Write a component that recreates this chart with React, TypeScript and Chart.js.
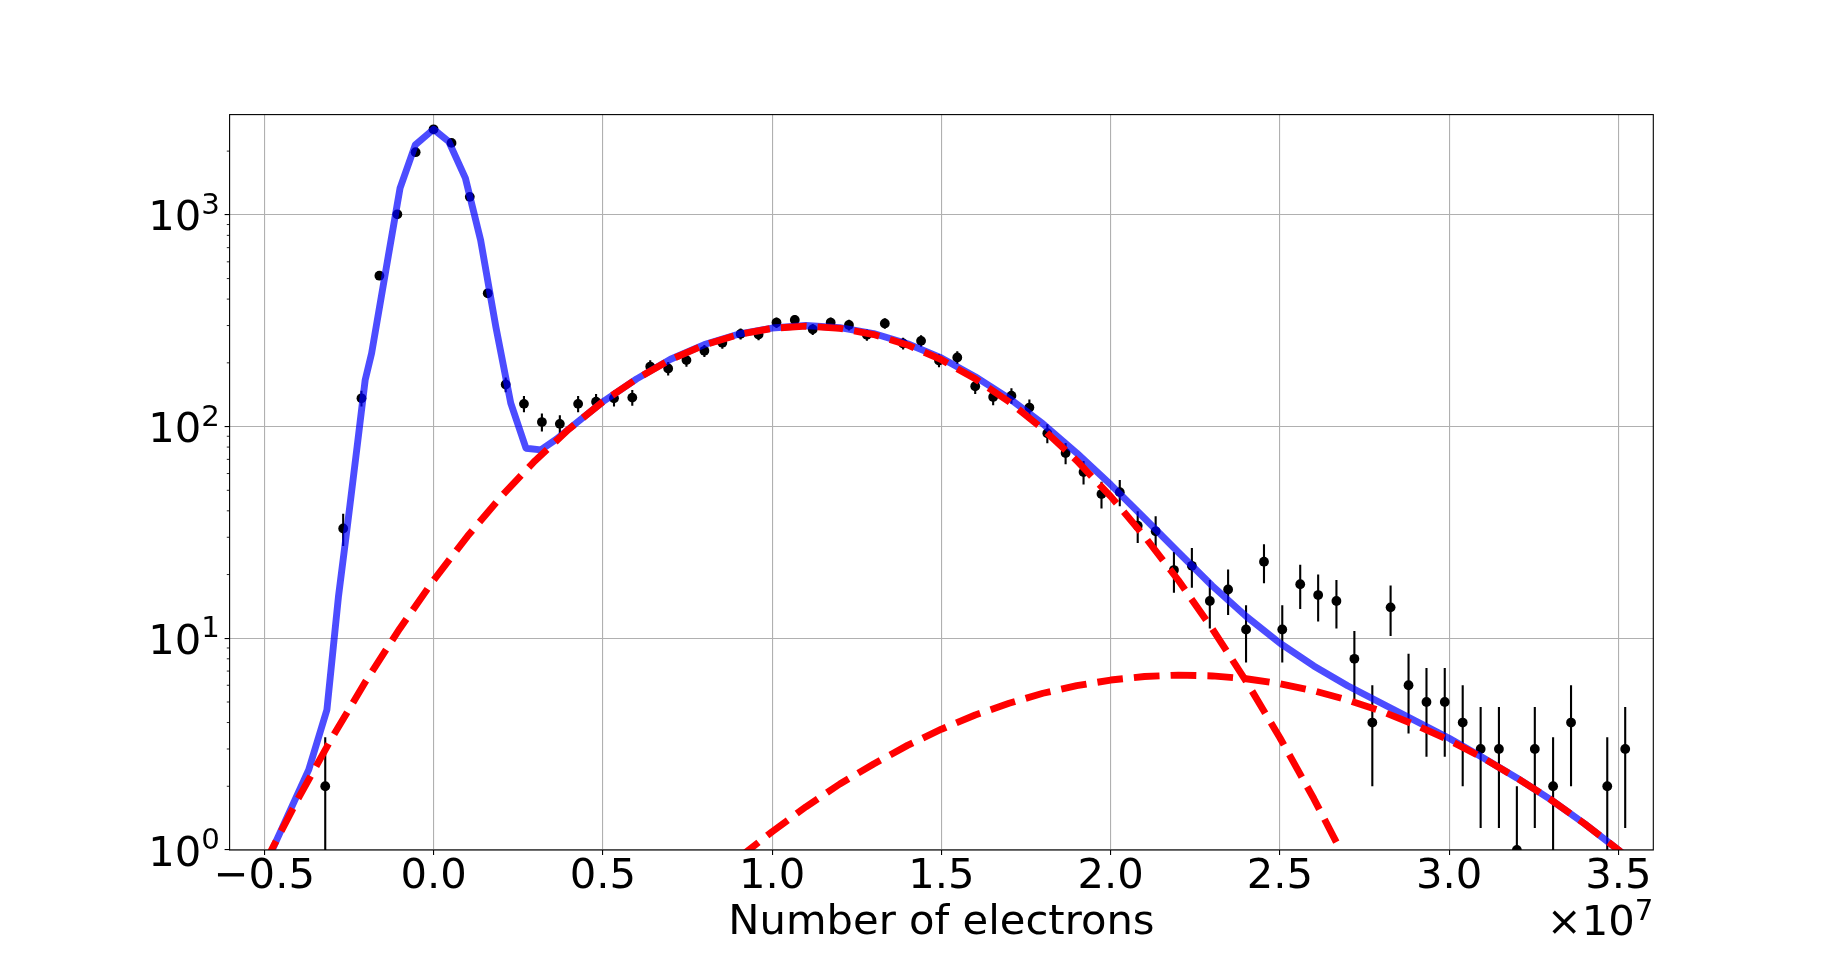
import { useEffect, useRef } from "react";
import { Chart, registerables } from "chart.js";

Chart.register(...registerables);

const FONT = "DejaVu Sans";
const BIG = 41.7;
const SUP = 29.2;

// histogram: bin centres in units of 1e7 electrons, counts per bin, Poisson error bars
const binCentres = [
  -0.32, -0.267, -0.213, -0.16, -0.107, -0.053, 0.0, 0.053, 0.107, 0.16,
  0.213, 0.267, 0.32, 0.373, 0.427, 0.48, 0.533, 0.587, 0.64, 0.693,
  0.747, 0.8, 0.853, 0.907, 0.96, 1.013, 1.067, 1.12, 1.173, 1.227,
  1.28, 1.333, 1.387, 1.44, 1.493, 1.547, 1.6, 1.653, 1.707, 1.76,
  1.813, 1.867, 1.92, 1.973, 2.027, 2.08, 2.133, 2.187, 2.24, 2.293,
  2.347, 2.4, 2.453, 2.507, 2.56, 2.613, 2.667, 2.72, 2.773, 2.827,
  2.88, 2.933, 2.987, 3.04, 3.093, 3.147, 3.2, 3.253, 3.307, 3.36,
  3.413, 3.467, 3.52,
];
const counts = [
  2, 33, 136, 516, 1006, 1977, 2535, 2187, 1216, 426,
  158, 128, 105, 103, 128, 131, 136, 137, 192, 188,
  206, 228, 249, 274, 272, 310, 319, 288, 310, 302,
  271, 307, 247, 254, 205, 212, 155, 138, 140, 123,
  93, 75, 61, 48, 49, 34, 32, 21, 22, 15,
  17, 11, 23, 11, 18, 16, 15, 8, 4, 14,
  6, 5, 5, 4, 3, 3, 1, 3, 2, 4,
  0, 2, 3,
];
const countErrors = [
  1.41, 5.74, 11.66, 22.72, 31.72, 44.46, 50.35, 46.77, 34.87, 20.64,
  12.57, 11.31, 10.25, 10.15, 11.31, 11.45, 11.66, 11.7, 13.86, 13.71,
  14.35, 15.1, 15.78, 16.55, 16.49, 17.61, 17.86, 16.97, 17.61, 17.38,
  16.46, 17.52, 15.72, 15.94, 14.32, 14.56, 12.45, 11.75, 11.83, 11.09,
  9.64, 8.66, 7.81, 6.93, 7.0, 5.83, 5.66, 4.58, 4.69, 3.87,
  4.12, 3.32, 4.8, 3.32, 4.24, 4.0, 3.87, 2.83, 2.0, 3.74,
  2.45, 2.24, 2.24, 2.0, 1.73, 1.73, 1.0, 1.73, 1.41, 2.0,
  0, 1.41, 1.73,
];

// full fit (blue)
const totalFitX = [
  -0.5, -0.369, -0.315, -0.281, -0.256, -0.226, -0.202, -0.183, -0.134, -0.099,
  -0.054, 0.0, 0.045, 0.094, 0.139, 0.184, 0.228, 0.273, 0.317, 0.362,
  0.4, 0.5, 0.6, 0.7, 0.8, 0.9, 1.0, 1.1, 1.2, 1.3,
  1.4, 1.5, 1.6, 1.7, 1.8, 1.9, 2.0, 2.1, 2.2, 2.3,
  2.4, 2.5, 2.6, 2.7, 2.8, 2.9, 3.0, 3.1, 3.2, 3.3,
  3.4, 3.5, 3.6,
];
const totalFitY = [
  0.83, 2.39, 4.6, 15.7, 32.5, 80, 166, 222, 635, 1336,
  2138, 2537, 2218, 1490, 760, 296, 129, 79, 77.6, 87,
  97.5, 131, 168, 208, 244, 273, 292, 300, 293, 275,
  246, 211, 172, 136, 103, 75, 53.2, 36.9, 25.5, 17.7,
  12.7, 9.49, 7.4, 5.97, 4.93, 4.08, 3.37, 2.73, 2.19, 1.73,
  1.33, 1.0, 0.74,
];

// main component (red dashed)
const mainGaussX = [
  -0.5, -0.4, -0.3, -0.2, -0.1, 0.0, 0.1, 0.2, 0.3, 0.4,
  0.5, 0.6, 0.7, 0.8, 0.9, 1.0, 1.1, 1.2, 1.3, 1.4,
  1.5, 1.6, 1.7, 1.8, 1.9, 2.0, 2.1, 2.2, 2.3, 2.4,
  2.5, 2.6, 2.7,
];
const mainGaussY = [
  0.86, 1.75, 3.39, 6.28, 11.1, 18.8, 30.3, 46.8, 69.0, 97.3,
  131, 168, 207, 243, 272, 291, 298, 291, 272, 243,
  207, 168, 131, 97.3, 69.0, 46.8, 30.3, 18.8, 11.1, 6.28,
  3.39, 1.75, 0.86,
];

// second component (red dashed)
const secondGaussX = [
  0.9, 1.0, 1.1, 1.2, 1.3, 1.4, 1.5, 1.6, 1.7, 1.8,
  1.9, 2.0, 2.1, 2.2, 2.3, 2.4, 2.5, 2.6, 2.7, 2.8,
  2.9, 3.0, 3.1, 3.2, 3.3, 3.4, 3.5, 3.6,
];
const secondGaussY = [
  0.914, 1.22, 1.6, 2.05, 2.55, 3.12, 3.72, 4.34, 4.93, 5.5,
  5.97, 6.35, 6.6, 6.7, 6.64, 6.44, 6.1, 5.65, 5.11, 4.52,
  3.9, 3.3, 2.72, 2.19, 1.73, 1.33, 1.0, 0.74,
];

const xTicks = [-0.5, 0.0, 0.5, 1.0, 1.5, 2.0, 2.5, 3.0, 3.5];
const yTicks = [1, 10, 100, 1000];
const yMinorTicks = [
  2, 3, 4, 5, 6, 7, 8, 9,
  20, 30, 40, 50, 60, 70, 80, 90,
  200, 300, 400, 500, 600, 700, 800, 900,
  2000,
];

const toPoints = (xs: number[], ys: number[]) => xs.map((x, i) => ({ x, y: ys[i] }));

const fmtX = (v: number) => (v < 0 ? "\u2212" + (-v).toFixed(1) : v.toFixed(1));

// error bars, frame, minor ticks, 10^n labels and the x offset text
const decorations = {
  id: "decorations",
  beforeDatasetsDraw(chart: any) {
    const { ctx, chartArea: a } = chart;
    const x = chart.scales.x;
    const y = chart.scales.y;
    ctx.save();
    ctx.beginPath();
    ctx.rect(a.left, a.top, a.right - a.left, a.bottom - a.top);
    ctx.clip();
    ctx.strokeStyle = "#000";
    ctx.lineWidth = 2.1;
    counts.forEach((n, i) => {
      if (!n) return;
      const px = x.getPixelForValue(binCentres[i]);
      const lo = n - countErrors[i];
      const top = y.getPixelForValue(n + countErrors[i]);
      const bottom = lo > 0 ? y.getPixelForValue(lo) : a.bottom + 5;
      ctx.beginPath();
      ctx.moveTo(px, top);
      ctx.lineTo(px, bottom);
      ctx.stroke();
    });
    ctx.restore();
  },
  afterDraw(chart: any) {
    const { ctx, chartArea: a } = chart;
    const y = chart.scales.y;
    ctx.save();
    ctx.strokeStyle = "#000";
    ctx.lineWidth = 1.1;
    ctx.strokeRect(a.left, a.top, a.right - a.left, a.bottom - a.top);

    ctx.lineWidth = 0.85;
    yMinorTicks.forEach((v) => {
      const py = y.getPixelForValue(v);
      ctx.beginPath();
      ctx.moveTo(a.left - 2.8, py);
      ctx.lineTo(a.left, py);
      ctx.stroke();
    });

    ctx.fillStyle = "#000";
    ctx.textBaseline = "alphabetic";
    ctx.textAlign = "right";
    const right = a.left - 9.7;
    yTicks.forEach((v) => {
      const py = y.getPixelForValue(v);
      const exp = String(Math.round(Math.log10(v)));
      ctx.font = `${SUP}px "${FONT}"`;
      const ew = ctx.measureText(exp).width;
      ctx.fillText(exp, right, py - 1);
      ctx.font = `${BIG}px "${FONT}"`;
      ctx.fillText("10", right - ew, py + 15.5);
    });

    ctx.font = `${SUP}px "${FONT}"`;
    const sw = ctx.measureText("7").width;
    ctx.fillText("7", a.right, 919.5);
    ctx.font = `${BIG}px "${FONT}"`;
    ctx.fillText("\u00d710", a.right - sw, 935);
    ctx.restore();
  },
};

const gridStyle = {
  color: "#b0b0b0",
  lineWidth: 1.1,
  tickLength: 5,
  tickColor: "#000",
  tickWidth: 1.1,
};

export default function App() {
  const canvasRef = useRef<HTMLCanvasElement>(null);

  useEffect(() => {
    if (!canvasRef.current) return;

    const lineBase = {
      type: "line" as const,
      pointRadius: 0,
      borderWidth: 6.9,
      tension: 0,
      clip: 0,
      borderJoinStyle: "round" as const,
    };

    const chart = new Chart(canvasRef.current, {
      type: "scatter",
      data: {
        datasets: [
          {
            ...lineBase,
            data: toPoints(mainGaussX, mainGaussY),
            borderColor: "#ff0000",
            borderDash: [25.7, 11.1],
            borderCapStyle: "butt",
            order: 0,
          },
          {
            ...lineBase,
            data: toPoints(secondGaussX, secondGaussY),
            borderColor: "#ff0000",
            borderDash: [25.7, 11.1],
            borderCapStyle: "butt",
            order: 0,
          },
          {
            ...lineBase,
            data: toPoints(totalFitX, totalFitY),
            borderColor: "rgba(0,0,255,0.7)",
            borderCapStyle: "square",
            order: 1,
          },
          {
            type: "scatter",
            data: binCentres.map((x, i) => ({ x, y: counts[i] > 0 ? counts[i] : null })),
            pointRadius: 4.9,
            pointBackgroundColor: "#000",
            pointBorderWidth: 0,
            clip: 0,
            order: 2,
          },
        ],
      } as any,
      options: {
        animation: false,
        responsive: true,
        maintainAspectRatio: false,
        events: [],
        layout: { padding: { left: 0, top: 114.6, right: 183.7, bottom: 0 } },
        plugins: { legend: { display: false }, tooltip: { enabled: false } },
        scales: {
          x: {
            type: "linear",
            position: "bottom",
            min: -0.6025,
            max: 3.603,
            afterBuildTicks: (s: any) => {
              s.ticks = xTicks.map((value) => ({ value }));
            },
            afterFit: (s: any) => {
              s.height = 105;
            },
            ticks: {
              color: "#000",
              font: { family: FONT, size: BIG, lineHeight: 1 },
              padding: 1,
              maxRotation: 0,
              autoSkip: false,
              callback: (v: any) => fmtX(Number(v)),
            },
            grid: gridStyle,
            border: { display: false },
            title: {
              display: true,
              text: "Number of electrons",
              color: "#000",
              font: { family: FONT, size: BIG, lineHeight: 1 },
              padding: { top: 0, bottom: 11.2 },
            },
          },
          y: {
            type: "logarithmic",
            min: 1,
            max: 2975,
            afterBuildTicks: (s: any) => {
              s.ticks = yTicks.map((value) => ({ value, major: true }));
            },
            afterFit: (s: any) => {
              s.width = 229.6;
            },
            ticks: { display: false },
            grid: gridStyle,
            border: { display: false },
          },
        },
      } as any,
      plugins: [decorations],
    });

    return () => chart.destroy();
  }, []);

  return (
    <div style={{ position: "absolute", left: 0, top: 0, width: 1837, height: 955, background: "#fff" }}>
      <canvas ref={canvasRef} />
    </div>
  );
}
